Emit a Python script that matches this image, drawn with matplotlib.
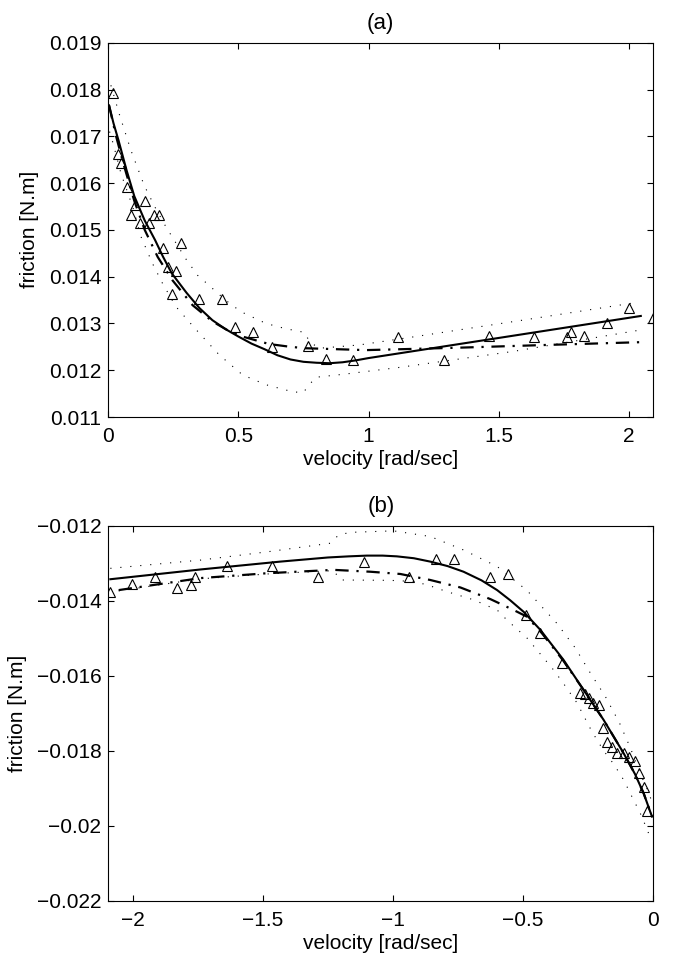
import matplotlib
matplotlib.use("Agg")
import matplotlib.pyplot as plt
from matplotlib.ticker import FixedLocator, FixedFormatter

plt.rcParams['font.family'] = ['Liberation Sans', 'DejaVu Sans']

# ---- panel (a): positive velocity ----
vel_a = [0.017, 0.036, 0.050, 0.072, 0.088, 0.104, 0.123, 0.141, 0.158, 0.174,
         0.193, 0.211, 0.228, 0.245, 0.262, 0.279, 0.350, 0.437, 0.487, 0.557,
         0.629, 0.766, 0.836, 0.939, 1.114, 1.288, 1.464, 1.637, 1.761, 1.778,
         1.829, 1.916, 2.002, 2.091]
fric_a = [0.01792, 0.01663, 0.01643, 0.01592, 0.01532, 0.01553, 0.01514, 0.01561,
          0.01514, 0.01532, 0.01532, 0.01462, 0.01421, 0.01362, 0.01413, 0.01473,
          0.01352, 0.01352, 0.01292, 0.01281, 0.01250, 0.01252, 0.01223, 0.01222,
          0.01272, 0.01222, 0.01273, 0.01272, 0.01272, 0.01282, 0.01273, 0.01302,
          0.01332, 0.01311]

fit_a_x = [0.003, 0.02, 0.04, 0.07, 0.10, 0.14, 0.18, 0.21, 0.244, 0.30, 0.35,
           0.40, 0.45, 0.50, 0.55, 0.60, 0.65, 0.70, 0.75, 0.80, 0.85, 0.90,
           0.95, 1.00, 1.50, 2.046]
fit_a_y = [0.01766, 0.01728, 0.01690, 0.01628, 0.01572, 0.01520, 0.01478, 0.01443,
           0.01407, 0.01366, 0.01333, 0.01307, 0.01288, 0.01272, 0.01257, 0.01245,
           0.01232, 0.01223, 0.01218, 0.01216, 0.01215, 0.01217, 0.01221, 0.01226,
           0.01269, 0.01316]

mod_a_x = [0.003, 0.03, 0.06, 0.10, 0.14, 0.19, 0.247, 0.324, 0.401, 0.46, 0.522,
           0.618, 0.70, 0.759, 0.875, 0.99, 1.336, 1.681, 1.925, 2.046]
mod_a_y = [0.01766, 0.01700, 0.01638, 0.01562, 0.01500, 0.01442, 0.01392, 0.01339,
           0.01304, 0.01285, 0.01271, 0.01256, 0.01250, 0.01247, 0.01245, 0.01243,
           0.01248, 0.01254, 0.01258, 0.01260]

up_a_x = [0.010, 0.042, 0.087, 0.138, 0.18, 0.222, 0.298, 0.343, 0.394, 0.45,
          0.510, 0.606, 0.68, 0.753, 0.775, 0.811, 0.964, 1.169, 1.592, 2.02]
up_a_y = [0.01809, 0.01748, 0.01670, 0.01595, 0.01548, 0.01506, 0.01438, 0.01403,
          0.01378, 0.01350, 0.01325, 0.01300, 0.01289, 0.01281, 0.01260, 0.01247,
          0.01254, 0.01271, 0.01307, 0.01344]

lo_a_x = [0.005, 0.020, 0.049, 0.094, 0.126, 0.170, 0.209, 0.260, 0.305, 0.350,
          0.426, 0.516, 0.606, 0.708, 0.749, 0.772, 0.798, 0.913, 1.118, 1.553,
          2.034]
lo_a_y = [0.01710, 0.01682, 0.01620, 0.01549, 0.01485, 0.01428, 0.01385, 0.01336,
          0.01307, 0.01279, 0.01233, 0.01190, 0.01169, 0.01154, 0.01152, 0.01169,
          0.01185, 0.01192, 0.01206, 0.01240, 0.01285]

# ---- panel (b): negative velocity ----
vel_b = [-2.089, -2.003, -1.916, -1.830, -1.776, -1.760, -1.638, -1.464, -1.290,
         -1.113, -0.940, -0.835, -0.767, -0.629, -0.558, -0.489, -0.437, -0.351,
         -0.280, -0.263, -0.246, -0.231, -0.210, -0.193, -0.176, -0.159, -0.141,
         -0.112, -0.092, -0.069, -0.055, -0.037, -0.023]
fric_b = [-0.01377, -0.01356, -0.01337, -0.01366, -0.01357, -0.01335, -0.01306,
          -0.01306, -0.01337, -0.01297, -0.01337, -0.01288, -0.01288, -0.01337,
          -0.01327, -0.01437, -0.01486, -0.01566, -0.01646, -0.01648, -0.01660,
          -0.01671, -0.01678, -0.01740, -0.01777, -0.01790, -0.01806, -0.01806,
          -0.01815, -0.01828, -0.01858, -0.01895, -0.01961]

fit_b_x = [-2.086, -1.740, -1.433, -1.250, -1.170, -1.100, -1.040, -0.985, -0.920,
           -0.857, -0.790, -0.729, -0.660, -0.600, -0.550, -0.498, -0.434, -0.345,
           -0.268, -0.191, -0.114, -0.070, -0.037, -0.005]
fit_b_y = [-0.01342, -0.01316, -0.01295, -0.01284, -0.01281, -0.01279, -0.01279,
           -0.01281, -0.01286, -0.01295, -0.01307, -0.01322, -0.01345, -0.01371,
           -0.01398, -0.01429, -0.01477, -0.01557, -0.01637, -0.01717, -0.01806,
           -0.01862, -0.01913, -0.01975]

mod_b_x = [-2.054, -1.740, -1.484, -1.228, -1.087, -0.972, -0.857, -0.741, -0.626,
           -0.537, -0.485, -0.428, -0.345, -0.268, -0.191, -0.114, -0.070, -0.037,
           -0.005]
mod_b_y = [-0.01371, -0.01339, -0.01326, -0.01317, -0.01322, -0.01328, -0.01344,
           -0.01364, -0.01395, -0.01424, -0.01442, -0.01486, -0.01560, -0.01637,
           -0.01717, -0.01806, -0.01862, -0.01913, -0.01975]

up_b_x = [-2.086, -1.740, -1.484, -1.241, -1.209, -1.164, -0.998, -0.857, -0.729,
          -0.600, -0.485, -0.370, -0.300, -0.242, -0.184, -0.130, -0.088, -0.050,
          -0.022, -0.008]
up_b_y = [-0.01313, -0.01291, -0.01269, -0.01246, -0.01224, -0.01217, -0.01213,
          -0.01228, -0.01264, -0.01308, -0.01372, -0.01460, -0.01525, -0.01592,
          -0.01655, -0.01725, -0.01792, -0.01860, -0.01904, -0.01930]

lo_b_x = [-2.054, -1.740, -1.484, -1.228, -1.202, -1.010, -0.921, -0.869, -0.793,
          -0.690, -0.600, -0.562, -0.485, -0.383, -0.345, -0.293, -0.236, -0.190,
          -0.152, -0.114, -0.082, -0.050, -0.022, -0.008]
lo_b_y = [-0.01373, -0.01341, -0.01328, -0.01319, -0.01344, -0.01345, -0.01348,
          -0.01357, -0.01375, -0.01397, -0.01424, -0.01451, -0.01499, -0.01584,
          -0.01620, -0.01672, -0.01748, -0.01800, -0.01835, -0.01877, -0.01922,
          -0.01966, -0.02012, -0.02040]

xticks_a = [0, 0.5, 1, 1.5, 2]
xlabels_a = ['0', '0.5', '1', '1.5', '2']
yticks_a = [0.011, 0.012, 0.013, 0.014, 0.015, 0.016, 0.017, 0.018, 0.019]
ylabels_a = ['0.011', '0.012', '0.013', '0.014', '0.015', '0.016', '0.017',
             '0.018', '0.019']
xticks_b = [-2, -1.5, -1, -0.5, 0]
xlabels_b = ['\u22122', '\u22121.5', '\u22121', '\u22120.5', '0']
yticks_b = [-0.022, -0.020, -0.018, -0.016, -0.014, -0.012]
ylabels_b = ['\u22120.022', '\u22120.02', '\u22120.018', '\u22120.016',
             '\u22120.014', '\u22120.012']

FS = 15
dashdot = (0, (6, 3.5, 1, 3.5))
dotted = (0, (1, 8))

fig = plt.figure(figsize=(6.84, 9.6), dpi=100)
ax_a = fig.add_axes([0.1583, 0.5656, 0.7968, 0.3899])
ax_b = fig.add_axes([0.1583, 0.0615, 0.7968, 0.3906])


def draw(ax, px, py, fx, fy, mx, my, ux, uy, lx, ly):
    ax.plot(ux, uy, color='k', lw=0.8, linestyle=dotted)
    ax.plot(lx, ly, color='k', lw=0.8, linestyle=dotted)
    ax.plot(mx, my, color='k', lw=1.6, linestyle=dashdot)
    ax.plot(fx, fy, color='k', lw=1.5, linestyle='-')
    ax.plot(px, py, linestyle='none', marker='^', markersize=7.5,
            markerfacecolor='none', markeredgecolor='k', markeredgewidth=0.8)


draw(ax_a, vel_a, fric_a, fit_a_x, fit_a_y, mod_a_x, mod_a_y,
     up_a_x, up_a_y, lo_a_x, lo_a_y)
draw(ax_b, vel_b, fric_b, fit_b_x, fit_b_y, mod_b_x, mod_b_y,
     up_b_x, up_b_y, lo_b_x, lo_b_y)

ax_a.set_xlim(0, 2.094)
ax_a.set_ylim(0.011, 0.019)
ax_b.set_xlim(-2.094, 0)
ax_b.set_ylim(-0.022, -0.012)

for ax, xt, xl, yt, yl, title in [
        (ax_a, xticks_a, xlabels_a, yticks_a, ylabels_a, '(a)'),
        (ax_b, xticks_b, xlabels_b, yticks_b, ylabels_b, '(b)')]:
    ax.xaxis.set_major_locator(FixedLocator(xt))
    ax.xaxis.set_major_formatter(FixedFormatter(xl))
    ax.yaxis.set_major_locator(FixedLocator(yt))
    ax.yaxis.set_major_formatter(FixedFormatter(yl))
    ax.tick_params(direction='in', length=4, width=0.8, top=True, right=True,
                   labelsize=FS)
    ax.tick_params(axis='x', pad=7)
    ax.tick_params(axis='y', pad=5)
    for s in ax.spines.values():
        s.set_linewidth(0.8)
    ax.set_xlabel('velocity [rad/sec]', fontsize=FS, labelpad=3)
    ax.set_ylabel('friction [N.m]', fontsize=FS, labelpad=7)
    ax.set_title(title, fontsize=16, pad=10)

fig.savefig('out.png', dpi=100)
